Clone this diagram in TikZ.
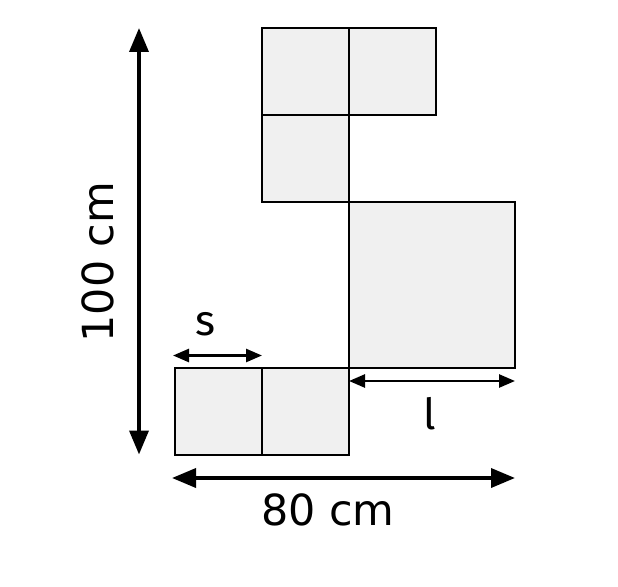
\documentclass[tikz,border=0pt]{standalone}
\usepackage{fontspec}
\setmainfont{DejaVu Sans}
\newfontfamily\varfont{Fira Sans}
\usetikzlibrary{arrows.meta}
\definecolor{tilegray}{HTML}{F0F0F0}

\begin{document}
\begin{tikzpicture}[x=1bp,y=-1bp,line join=miter,
  tile/.style={draw=black,fill=tilegray,line width=2bp,inner sep=0pt,outer sep=0pt,minimum size=87bp},
  bigtile/.style={tile,minimum size=166bp},
  dimline/.style={line width=3.6bp,{Triangle[length=24bp,width=19bp]}-{Triangle[length=24bp,width=19bp]}},
  sdimline/.style={line width=2.6bp,{Triangle[length=16bp,width=13bp]}-{Triangle[length=16bp,width=13bp]}},
  lbl/.style={font=\fontsize{43}{48}\selectfont,inner sep=0pt}]
\useasboundingbox (0,0) rectangle (618,587);
%%
\node (tile_a) at (218.5,411) [tile] {};
  \node (tile_b) at (305.5,411) [tile] {};
  \node (big)    at (432,285)   [bigtile] {};
  \node (tile_c) at (305.5,158.5) [tile] {};
  \node (tile_d) at (305.5,71.5)  [tile] {};
  \node (tile_e) at (392.5,71.5)  [tile] {};
  \coordinate (hx) at (139,0);
  \coordinate (wy) at (0,478);
  \draw [dimline] (tile_d.north -| hx) -- (tile_a.south -| hx);
  \draw [dimline] ([xshift=-3bp]tile_a.west |- wy) -- (big.east |- wy);
  \draw [sdimline] ([xshift=-2bp,yshift=12bp]tile_a.north west) -- ([yshift=12bp]tile_a.north east);
  \draw [sdimline] ([yshift=-13bp]big.south west) -- ([yshift=-13bp]big.south east);
  \node (h_lbl) at (98,262) [lbl,rotate=90] {100 cm};
  \node (w_lbl) at (328,510) [lbl] {80 cm};
  \node (s_lbl) at (205,324) [lbl,font=\varfont\fontsize{43}{48}\selectfont] {s};
  \node (l_lbl) at (430,414) [lbl,font=\varfont\fontsize{43}{48}\selectfont] {l};
%
\end{tikzpicture}
\end{document}
